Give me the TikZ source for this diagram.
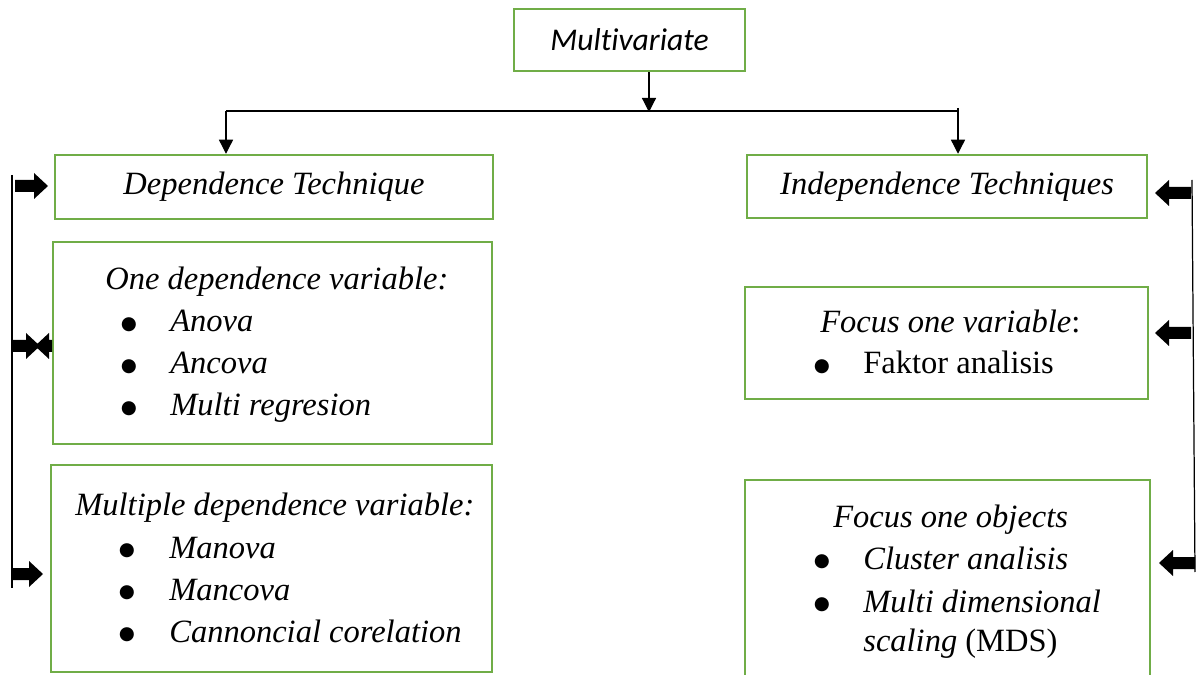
\documentclass[tikz,border=0pt]{standalone}
\usepackage{fontspec}
\setmainfont{Liberation Serif}
\newfontfamily\calibri[Ligatures=NoCommon]{Carlito}
\newfontfamily\dejavu{DejaVu Sans}
\usetikzlibrary{arrows.meta}
\definecolor{boxgreen}{RGB}{112,173,71}

% block arrows: start x, tip x, y
\newcommand{\blockR}[3]{\fill (#1,#3-6) -- (#2-14,#3-6) -- (#2-14,#3-13) -- (#2,#3) -- (#2-14,#3+13) -- (#2-14,#3+6) -- (#1,#3+6) -- cycle;}
\newcommand{\blockL}[3]{\fill (#1,#3-6) -- (#2+14,#3-6) -- (#2+14,#3-13) -- (#2,#3) -- (#2+14,#3+13) -- (#2+14,#3+6) -- (#1,#3+6) -- cycle;}

\tikzset{
  box/.style={draw=boxgreen, line width=1.4pt, inner sep=0pt},
  txt/.style={anchor=base west, inner sep=0pt, font=\fontsize{18.5}{23}\selectfont\itshape},
  dot/.style={anchor=base, inner sep=0pt, yshift=0.05cm, font=\fontsize{10.5}{11}\selectfont\dejavu},
  conn/.style={line width=0.7pt, -{Triangle[length=8pt,width=8pt]}}
}

\begin{document}
\begin{tikzpicture}[x=0.02cm, y=-0.02cm]
    \useasboundingbox (0,0) rectangle (1197,675);

    %Top
    \node[box, minimum width=4.62cm, minimum height=1.24cm, font=\fontsize{18}{23}\selectfont\calibri\itshape] (multi) at (629.5,40) {Multivariate};
    \coordinate (hub) at (649,112);
    \coordinate (lsplit) at (226,111);
    \coordinate (rsplit) at (958,108);

    %Left column
    \node[box, minimum width=8.76cm, minimum height=1.28cm, font=\fontsize{18.5}{23}\selectfont\itshape] (dep) at (274,187) {Dependence Technique};
    \node[box, minimum width=8.78cm, minimum height=4.04cm] (onedep) at (272.5,343) {};
    \node[box, minimum width=8.82cm, minimum height=4.14cm] (multidep) at (271.5,568.5) {};

    \node[txt] (onehead) at (105,290) {One dependence variable:};
    \node[dot] (b1) at (129,332) {●};
    \node[txt] (anova) at (170,332) {Anova};
    \node[dot] (b2) at (129,374) {●};
    \node[txt] (ancova) at (170,374) {Ancova};
    \node[dot] (b3) at (129,416) {●};
    \node[txt] (multireg) at (170,416) {Multi regresion};

    \node[txt] (multihead) at (75,515) {Multiple dependence variable:};
    \node[dot] (b4) at (127,558) {●};
    \node[txt] (manova) at (169,558) {Manova};
    \node[dot] (b5) at (127,600) {●};
    \node[txt] (mancova) at (169,600) {Mancova};
    \node[dot] (b6) at (127,642) {●};
    \node[txt] (cannon) at (169,642) {Cannoncial corelation};

    %Right column
    \node[box, minimum width=8.0cm, minimum height=1.26cm, font=\fontsize{18.5}{23}\selectfont\itshape] (indep) at (947,186.5) {Independence Techniques};
    \node[box, minimum width=8.06cm, minimum height=2.24cm] (focvar) at (946.5,343) {};
    \node[box, minimum width=8.1cm, minimum height=4.4cm] (focobj) at (947.5,590) {};

    \node[txt] (varhead) at (820,333) {Focus one variable\upshape:};
    \node[dot] (b7) at (822,374) {●};
    \node[txt, font=\fontsize{18.5}{23}\selectfont] (faktor) at (863,374) {Faktor analisis};

    \node[txt] (objhead) at (833,527) {Focus one objects};
    \node[dot] (b8) at (822,569) {●};
    \node[txt] (cluster) at (863,569) {Cluster analisis};
    \node[dot] (b9) at (822,612) {●};
    \node[txt] (mdim) at (863,612) {Multi dimensional};
    \node[txt] (scaling) at (863,651) {scaling \upshape(MDS)};

    %Connectors
    \draw[conn] (multi.south -| hub) -- (hub);
    \draw[line width=0.7pt] (lsplit) -- (rsplit |- lsplit);
    \draw[conn] (lsplit) -- (lsplit |- dep.north);
    \draw[conn] (rsplit) -- (rsplit |- indep.north);

    %Left side bar
    \draw[line width=0.7pt] (12,175) -- (12,588);
    \blockR{15}{48}{186}
    \blockR{11}{40}{346}
    \blockL{52}{35}{346}
    \blockR{12}{43}{574}

    %Right side bar
    \draw[line width=0.7pt] (1192,180) -- (1195,572);
    \blockL{1191}{1155}{193}
    \blockL{1191}{1155}{333}
    \blockL{1195}{1159}{563}
\end{tikzpicture}
\end{document}
